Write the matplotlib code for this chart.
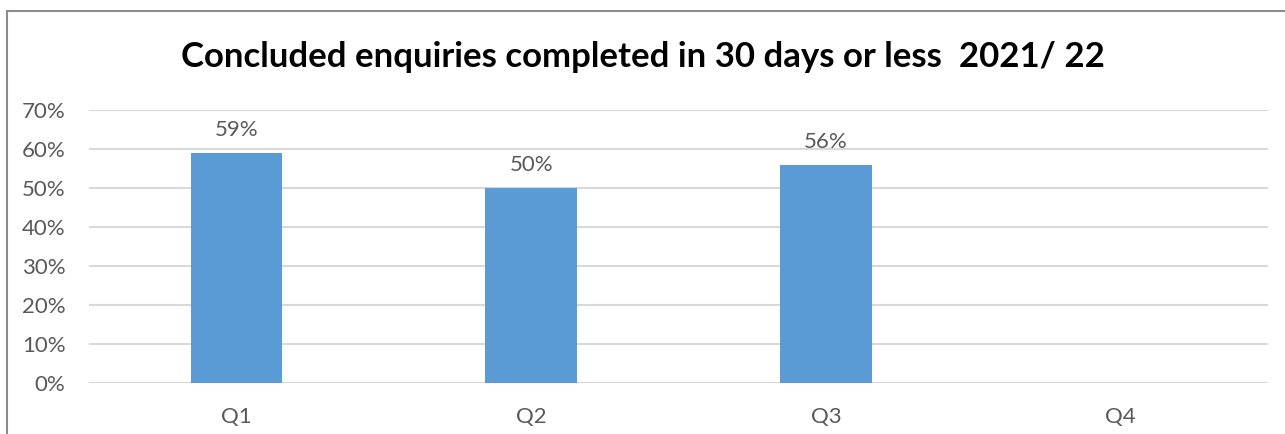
import matplotlib
matplotlib.use("Agg")
import matplotlib.pyplot as plt
from matplotlib.lines import Line2D
import numpy as np

categories = ["Q1", "Q2", "Q3", "Q4"]
values = [0.59, 0.50, 0.56, np.nan]
labels = ["59%", "50%", "56%", ""]
yticks = [0, 0.1, 0.2, 0.3, 0.4, 0.5, 0.6, 0.7]
title = "Concluded enquiries completed in 30 days or less  2021/ 22"

BAR = "#5B9BD5"
GRID = "#D9D9D9"
TXT = "#595959"

plt.rcParams["font.family"] = ["Lato", "DejaVu Sans"]

fig = plt.figure(figsize=(12.85, 4.34), dpi=100)
ax = fig.add_axes([89 / 1285, 1 - 383 / 434, (1268 - 89) / 1285, (383 - 110) / 434])

x = np.arange(len(categories))
ax.bar(x, values, width=0.31, color=BAR, zorder=2)
for xi, v, lab in zip(x, values, labels):
    if lab:
        ax.text(xi, v + 0.059, lab, ha="center", va="center", fontsize=16, color=TXT)

ax.set_xlim(-0.5, len(categories) - 0.5)
ax.set_ylim(0, 0.7)
ax.set_yticks(yticks)
ax.set_yticklabels([f"{int(round(t * 100))}%" for t in yticks])
ax.set_xticks(x)
ax.set_xticklabels(categories)
ax.grid(axis="y", color=GRID, linewidth=1.5, zorder=0)
ax.set_axisbelow(True)
for s in ax.spines.values():
    s.set_visible(False)
ax.tick_params(axis="both", length=0, labelsize=16, colors=TXT)
ax.tick_params(axis="y", pad=17)
ax.tick_params(axis="x", pad=17)

fig.text(0.5, 1 - 57 / 434, title, ha="center", va="center",
         fontsize=25, fontweight="bold", color="black")

# chart frame (left and top edges)
fig.add_artist(Line2D([7 / 1285, 7 / 1285], [0, 1 - 11 / 434], color="#8C8C8C", linewidth=1.5))
fig.add_artist(Line2D([7 / 1285, 1], [1 - 11 / 434, 1 - 11 / 434], color="#8C8C8C", linewidth=1.5))

fig.savefig("out.png", dpi=100)
